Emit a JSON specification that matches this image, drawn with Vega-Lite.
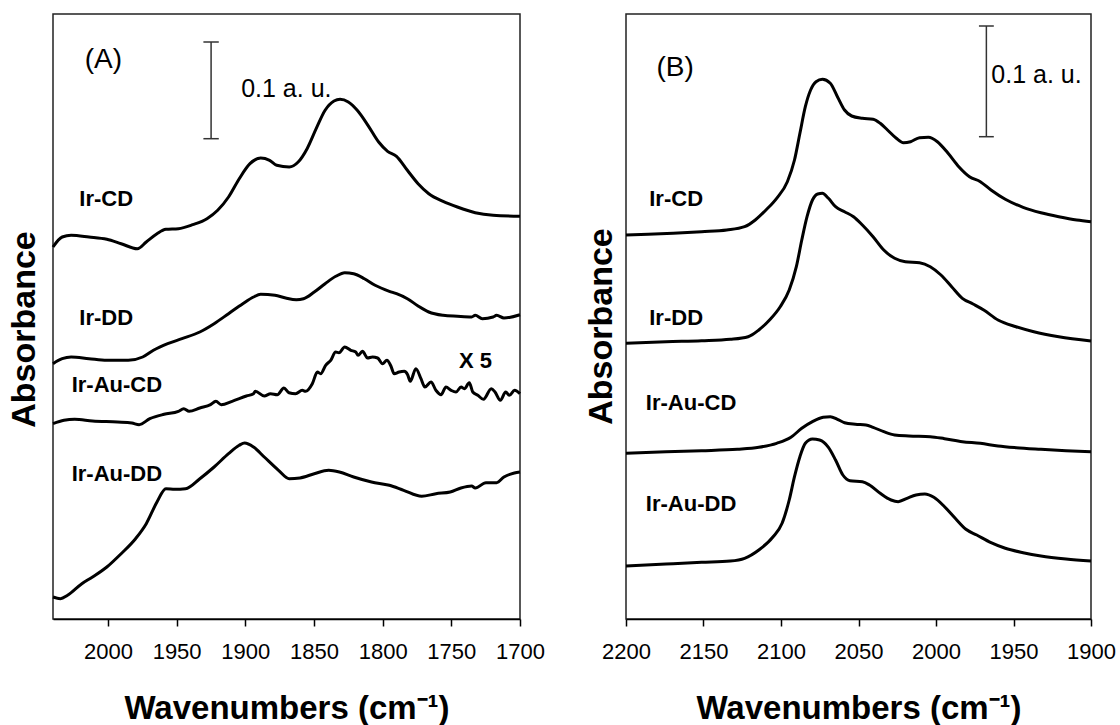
{
  "$schema": "https://vega.github.io/schema/vega-lite/v6.json",
  "background": "white",
  "padding": {"left": 6, "top": 13, "right": 0, "bottom": 0},
  "config": {
    "view": {"stroke": "#222", "strokeWidth": 1.5},
    "font": "Liberation Sans",
    "text": {"font": "Liberation Sans", "color": "black"}
  },
  "spacing": 106,
  "bounds": "flush",
  "datasets": {
    "specA": [
      {"s":"Ir-CD","wn":2040,"h":372},{"s":"Ir-CD","wn":2033.3,"h":382},{"s":"Ir-CD","wn":2026.8,"h":383.7},{"s":"Ir-CD","wn":2013.8,"h":382},{"s":"Ir-CD","wn":2000.8,"h":379.7},{"s":"Ir-CD","wn":1990.4,"h":375.3},{"s":"Ir-CD","wn":1978.6,"h":370.3},{"s":"Ir-CD","wn":1972.1,"h":377},{"s":"Ir-CD","wn":1964.3,"h":385.3},{"s":"Ir-CD","wn":1957.8,"h":389.7},{"s":"Ir-CD","wn":1948.7,"h":390.3},{"s":"Ir-CD","wn":1938.3,"h":394.3},{"s":"Ir-CD","wn":1927.9,"h":400.3},{"s":"Ir-CD","wn":1920.1,"h":408.7},{"s":"Ir-CD","wn":1912.2,"h":422},{"s":"Ir-CD","wn":1904.4,"h":440.3},{"s":"Ir-CD","wn":1896.6,"h":455.3},{"s":"Ir-CD","wn":1888.8,"h":461},{"s":"Ir-CD","wn":1882.3,"h":458.7},{"s":"Ir-CD","wn":1877.1,"h":453.7},{"s":"Ir-CD","wn":1868,"h":452},{"s":"Ir-CD","wn":1861.5,"h":457},{"s":"Ir-CD","wn":1855,"h":470.3},{"s":"Ir-CD","wn":1848.4,"h":490.3},{"s":"Ir-CD","wn":1841.9,"h":508.7},{"s":"Ir-CD","wn":1835.4,"h":518},{"s":"Ir-CD","wn":1831,"h":519.7},{"s":"Ir-CD","wn":1825,"h":517},{"s":"Ir-CD","wn":1818.5,"h":508.7},{"s":"Ir-CD","wn":1810.7,"h":493.7},{"s":"Ir-CD","wn":1802.9,"h":477},{"s":"Ir-CD","wn":1796.4,"h":467.7},{"s":"Ir-CD","wn":1789.9,"h":462.7},{"s":"Ir-CD","wn":1782,"h":448.7},{"s":"Ir-CD","wn":1774.2,"h":435.3},{"s":"Ir-CD","wn":1766.4,"h":425.3},{"s":"Ir-CD","wn":1756,"h":417.7},{"s":"Ir-CD","wn":1745.6,"h":412},{"s":"Ir-CD","wn":1732.6,"h":406.3},{"s":"Ir-CD","wn":1719.6,"h":403.7},{"s":"Ir-CD","wn":1700,"h":402.7},
      {"s":"Ir-DD","wn":2040,"h":255.3},{"s":"Ir-DD","wn":2033.3,"h":260.3},{"s":"Ir-DD","wn":2026.8,"h":262},{"s":"Ir-DD","wn":2013.8,"h":260.3},{"s":"Ir-DD","wn":2000.8,"h":258.7},{"s":"Ir-DD","wn":1985.2,"h":258.7},{"s":"Ir-DD","wn":1974.7,"h":262},{"s":"Ir-DD","wn":1966.9,"h":268.7},{"s":"Ir-DD","wn":1956.5,"h":275.3},{"s":"Ir-DD","wn":1946.1,"h":280.3},{"s":"Ir-DD","wn":1933.1,"h":287},{"s":"Ir-DD","wn":1922.7,"h":295.3},{"s":"Ir-DD","wn":1912.2,"h":305.3},{"s":"Ir-DD","wn":1901.8,"h":315.3},{"s":"Ir-DD","wn":1894,"h":322},{"s":"Ir-DD","wn":1888.8,"h":324.7},{"s":"Ir-DD","wn":1878.4,"h":323.7},{"s":"Ir-DD","wn":1870.6,"h":321},{"s":"Ir-DD","wn":1862.8,"h":319.3},{"s":"Ir-DD","wn":1857.6,"h":320.3},{"s":"Ir-DD","wn":1849.8,"h":327},{"s":"Ir-DD","wn":1841.9,"h":335.3},{"s":"Ir-DD","wn":1834.1,"h":342.7},{"s":"Ir-DD","wn":1827.6,"h":346.3},{"s":"Ir-DD","wn":1821.1,"h":345.3},{"s":"Ir-DD","wn":1813.3,"h":340.3},{"s":"Ir-DD","wn":1805.5,"h":333.7},{"s":"Ir-DD","wn":1795.1,"h":327.7},{"s":"Ir-DD","wn":1789.9,"h":325.3},{"s":"Ir-DD","wn":1782,"h":320.3},{"s":"Ir-DD","wn":1774.2,"h":313},{"s":"Ir-DD","wn":1766.4,"h":307},{"s":"Ir-DD","wn":1756,"h":303.7},{"s":"Ir-DD","wn":1745.6,"h":302.7},{"s":"Ir-DD","wn":1735.2,"h":302},{"s":"Ir-DD","wn":1732.6,"h":303.7},{"s":"Ir-DD","wn":1727.4,"h":300.3},{"s":"Ir-DD","wn":1719.6,"h":302},{"s":"Ir-DD","wn":1717,"h":303.7},{"s":"Ir-DD","wn":1711.7,"h":301},{"s":"Ir-DD","wn":1700,"h":304.3},
      {"s":"Ir-Au-CD","wn":2040,"h":195.3},{"s":"Ir-Au-CD","wn":2032,"h":198.7},{"s":"Ir-Au-CD","wn":2024.2,"h":199.7},{"s":"Ir-Au-CD","wn":2011.2,"h":198},{"s":"Ir-Au-CD","wn":1993,"h":197},{"s":"Ir-Au-CD","wn":1982.6,"h":196},{"s":"Ir-Au-CD","wn":1977.3,"h":194.3},{"s":"Ir-Au-CD","wn":1969.5,"h":200.3},{"s":"Ir-Au-CD","wn":1959.1,"h":204.7},{"s":"Ir-Au-CD","wn":1948.7,"h":207.7},{"s":"Ir-Au-CD","wn":1944.8,"h":210.3},{"s":"Ir-Au-CD","wn":1940.9,"h":207.7},{"s":"Ir-Au-CD","wn":1933.1,"h":211},{"s":"Ir-Au-CD","wn":1925.3,"h":214.3},{"s":"Ir-Au-CD","wn":1921.4,"h":217.7},{"s":"Ir-Au-CD","wn":1917.5,"h":214.3},{"s":"Ir-Au-CD","wn":1909.6,"h":217.7},{"s":"Ir-Au-CD","wn":1899.2,"h":223},{"s":"Ir-Au-CD","wn":1894,"h":225.3},{"s":"Ir-Au-CD","wn":1892.7,"h":227.7},{"s":"Ir-Au-CD","wn":1886.2,"h":223},{"s":"Ir-Au-CD","wn":1881.6,"h":225.3},{"s":"Ir-Au-CD","wn":1876.7,"h":224.3},{"s":"Ir-Au-CD","wn":1871.9,"h":231},{"s":"Ir-Au-CD","wn":1868.2,"h":226.3},{"s":"Ir-Au-CD","wn":1863.4,"h":225.3},{"s":"Ir-Au-CD","wn":1858.5,"h":228.7},{"s":"Ir-Au-CD","wn":1856.1,"h":227.7},{"s":"Ir-Au-CD","wn":1851.2,"h":235.3},{"s":"Ir-Au-CD","wn":1847.5,"h":247},{"s":"Ir-Au-CD","wn":1845.1,"h":245.3},{"s":"Ir-Au-CD","wn":1841.5,"h":253.7},{"s":"Ir-Au-CD","wn":1837.8,"h":258.7},{"s":"Ir-Au-CD","wn":1834.2,"h":267},{"s":"Ir-Au-CD","wn":1831.8,"h":266.3},{"s":"Ir-Au-CD","wn":1827.6,"h":272},{"s":"Ir-Au-CD","wn":1823.2,"h":268.7},{"s":"Ir-Au-CD","wn":1819.6,"h":267},{"s":"Ir-Au-CD","wn":1817.9,"h":263.7},{"s":"Ir-Au-CD","wn":1814.7,"h":267.7},{"s":"Ir-Au-CD","wn":1811,"h":261},{"s":"Ir-Au-CD","wn":1807.4,"h":262},{"s":"Ir-Au-CD","wn":1803.7,"h":261},{"s":"Ir-Au-CD","wn":1800.1,"h":255.3},{"s":"Ir-Au-CD","wn":1796.9,"h":258.7},{"s":"Ir-Au-CD","wn":1794,"h":253},{"s":"Ir-Au-CD","wn":1791.6,"h":245.3},{"s":"Ir-Au-CD","wn":1788,"h":247},{"s":"Ir-Au-CD","wn":1784.3,"h":247.7},{"s":"Ir-Au-CD","wn":1781.8,"h":244.3},{"s":"Ir-Au-CD","wn":1779.9,"h":237.7},{"s":"Ir-Au-CD","wn":1775.8,"h":250.3},{"s":"Ir-Au-CD","wn":1772.1,"h":240.3},{"s":"Ir-Au-CD","wn":1769.2,"h":232},{"s":"Ir-Au-CD","wn":1764.8,"h":237},{"s":"Ir-Au-CD","wn":1761.2,"h":228.7},{"s":"Ir-Au-CD","wn":1757.5,"h":224.3},{"s":"Ir-Au-CD","wn":1753.9,"h":232},{"s":"Ir-Au-CD","wn":1750.2,"h":228.7},{"s":"Ir-Au-CD","wn":1746.6,"h":227},{"s":"Ir-Au-CD","wn":1742.9,"h":232},{"s":"Ir-Au-CD","wn":1740.5,"h":230.3},{"s":"Ir-Au-CD","wn":1736.9,"h":236.3},{"s":"Ir-Au-CD","wn":1734.4,"h":227},{"s":"Ir-Au-CD","wn":1730.7,"h":223.7},{"s":"Ir-Au-CD","wn":1726.6,"h":219.7},{"s":"Ir-Au-CD","wn":1720.9,"h":230.3},{"s":"Ir-Au-CD","wn":1718.2,"h":227},{"s":"Ir-Au-CD","wn":1714.3,"h":218.7},{"s":"Ir-Au-CD","wn":1710.4,"h":227},{"s":"Ir-Au-CD","wn":1707.8,"h":223.7},{"s":"Ir-Au-CD","wn":1703.9,"h":228.7},{"s":"Ir-Au-CD","wn":1700,"h":225.3},
      {"s":"Ir-Au-DD","wn":2040,"h":22},{"s":"Ir-Au-DD","wn":2034.6,"h":20.3},{"s":"Ir-Au-DD","wn":2029.4,"h":23.7},{"s":"Ir-Au-DD","wn":2019,"h":35.3},{"s":"Ir-Au-DD","wn":2011.2,"h":42},{"s":"Ir-Au-DD","wn":2000.8,"h":52},{"s":"Ir-Au-DD","wn":1990.4,"h":65.3},{"s":"Ir-Au-DD","wn":1979.9,"h":80.3},{"s":"Ir-Au-DD","wn":1972.1,"h":95.3},{"s":"Ir-Au-DD","wn":1964.3,"h":117},{"s":"Ir-Au-DD","wn":1957.8,"h":130.3},{"s":"Ir-Au-DD","wn":1951.3,"h":129.7},{"s":"Ir-Au-DD","wn":1943.5,"h":130.3},{"s":"Ir-Au-DD","wn":1933.1,"h":140.3},{"s":"Ir-Au-DD","wn":1922.7,"h":152},{"s":"Ir-Au-DD","wn":1912.2,"h":165.3},{"s":"Ir-Au-DD","wn":1904.4,"h":173.7},{"s":"Ir-Au-DD","wn":1900.5,"h":176},{"s":"Ir-Au-DD","wn":1894,"h":172},{"s":"Ir-Au-DD","wn":1886.2,"h":162},{"s":"Ir-Au-DD","wn":1875.8,"h":148.7},{"s":"Ir-Au-DD","wn":1868,"h":140.3},{"s":"Ir-Au-DD","wn":1860.2,"h":141},{"s":"Ir-Au-DD","wn":1849.8,"h":145.3},{"s":"Ir-Au-DD","wn":1839.3,"h":148.7},{"s":"Ir-Au-DD","wn":1831.5,"h":147},{"s":"Ir-Au-DD","wn":1821.1,"h":142},{"s":"Ir-Au-DD","wn":1808.1,"h":137},{"s":"Ir-Au-DD","wn":1795.1,"h":133.7},{"s":"Ir-Au-DD","wn":1784.7,"h":128.7},{"s":"Ir-Au-DD","wn":1771.6,"h":122.7},{"s":"Ir-Au-DD","wn":1761.2,"h":125.3},{"s":"Ir-Au-DD","wn":1750.8,"h":127},{"s":"Ir-Au-DD","wn":1743,"h":131},{"s":"Ir-Au-DD","wn":1735.2,"h":133},{"s":"Ir-Au-DD","wn":1732.6,"h":131},{"s":"Ir-Au-DD","wn":1724.8,"h":136.3},{"s":"Ir-Au-DD","wn":1717,"h":136.3},{"s":"Ir-Au-DD","wn":1711.7,"h":142},{"s":"Ir-Au-DD","wn":1704.1,"h":146},{"s":"Ir-Au-DD","wn":1700,"h":147}
    ],
    "specB": [
      {"s":"Ir-CD","wn":2200,"h":384},{"s":"Ir-CD","wn":2185.7,"h":384.7},{"s":"Ir-CD","wn":2169.6,"h":385.7},{"s":"Ir-CD","wn":2151.2,"h":387.3},{"s":"Ir-CD","wn":2135,"h":389},{"s":"Ir-CD","wn":2123.5,"h":392.3},{"s":"Ir-CD","wn":2116.6,"h":399},{"s":"Ir-CD","wn":2109.7,"h":409},{"s":"Ir-CD","wn":2102.8,"h":420.7},{"s":"Ir-CD","wn":2095.9,"h":437.3},{"s":"Ir-CD","wn":2091.3,"h":459},{"s":"Ir-CD","wn":2087.8,"h":485.7},{"s":"Ir-CD","wn":2084.3,"h":512.3},{"s":"Ir-CD","wn":2080.9,"h":529},{"s":"Ir-CD","wn":2077.4,"h":537.3},{"s":"Ir-CD","wn":2073.3,"h":539.7},{"s":"Ir-CD","wn":2068.2,"h":535.7},{"s":"Ir-CD","wn":2063.6,"h":522.3},{"s":"Ir-CD","wn":2059,"h":509},{"s":"Ir-CD","wn":2054.4,"h":503},{"s":"Ir-CD","wn":2047.5,"h":500.7},{"s":"Ir-CD","wn":2040.6,"h":499.7},{"s":"Ir-CD","wn":2036,"h":495.7},{"s":"Ir-CD","wn":2031.3,"h":489},{"s":"Ir-CD","wn":2025.6,"h":480.7},{"s":"Ir-CD","wn":2021,"h":476.3},{"s":"Ir-CD","wn":2016.4,"h":477.3},{"s":"Ir-CD","wn":2010.6,"h":481.3},{"s":"Ir-CD","wn":2004.9,"h":481.7},{"s":"Ir-CD","wn":1999.1,"h":477.3},{"s":"Ir-CD","wn":1992.2,"h":465.7},{"s":"Ir-CD","wn":1985.3,"h":452.3},{"s":"Ir-CD","wn":1978.4,"h":442.3},{"s":"Ir-CD","wn":1971.4,"h":437.3},{"s":"Ir-CD","wn":1964.5,"h":429},{"s":"Ir-CD","wn":1955.3,"h":419.7},{"s":"Ir-CD","wn":1943.8,"h":411.7},{"s":"Ir-CD","wn":1932.3,"h":406.3},{"s":"Ir-CD","wn":1920.8,"h":402.3},{"s":"Ir-CD","wn":1909.2,"h":399},{"s":"Ir-CD","wn":1900,"h":397.3},
      {"s":"Ir-DD","wn":2200,"h":275.7},{"s":"Ir-DD","wn":2174.2,"h":277.3},{"s":"Ir-DD","wn":2151.2,"h":278.3},{"s":"Ir-DD","wn":2132.7,"h":279.7},{"s":"Ir-DD","wn":2121.2,"h":282.3},{"s":"Ir-DD","wn":2114.3,"h":289},{"s":"Ir-DD","wn":2107.4,"h":299},{"s":"Ir-DD","wn":2100.5,"h":312.3},{"s":"Ir-DD","wn":2094.7,"h":329},{"s":"Ir-DD","wn":2090.1,"h":352.3},{"s":"Ir-DD","wn":2086.6,"h":379},{"s":"Ir-DD","wn":2083.2,"h":402.3},{"s":"Ir-DD","wn":2079.7,"h":419},{"s":"Ir-DD","wn":2076.3,"h":425},{"s":"Ir-DD","wn":2073.3,"h":425.7},{"s":"Ir-DD","wn":2069.4,"h":420.7},{"s":"Ir-DD","wn":2064.8,"h":412.3},{"s":"Ir-DD","wn":2059,"h":407.3},{"s":"Ir-DD","wn":2053.2,"h":402.3},{"s":"Ir-DD","wn":2047.5,"h":394},{"s":"Ir-DD","wn":2040.6,"h":382.3},{"s":"Ir-DD","wn":2033.7,"h":369},{"s":"Ir-DD","wn":2026.7,"h":360.7},{"s":"Ir-DD","wn":2019.8,"h":357.3},{"s":"Ir-DD","wn":2010.6,"h":356.3},{"s":"Ir-DD","wn":2003.7,"h":352.3},{"s":"Ir-DD","wn":1996.8,"h":344},{"s":"Ir-DD","wn":1989.9,"h":332.3},{"s":"Ir-DD","wn":1983,"h":320.7},{"s":"Ir-DD","wn":1976.1,"h":315},{"s":"Ir-DD","wn":1969.2,"h":309},{"s":"Ir-DD","wn":1960,"h":299},{"s":"Ir-DD","wn":1948.4,"h":292.3},{"s":"Ir-DD","wn":1936.9,"h":287.3},{"s":"Ir-DD","wn":1920.8,"h":282.3},{"s":"Ir-DD","wn":1900,"h":278},
      {"s":"Ir-Au-CD","wn":2200,"h":165.7},{"s":"Ir-Au-CD","wn":2174.2,"h":167.3},{"s":"Ir-Au-CD","wn":2151.2,"h":168.3},{"s":"Ir-Au-CD","wn":2128.1,"h":169.7},{"s":"Ir-Au-CD","wn":2114.3,"h":171.7},{"s":"Ir-Au-CD","wn":2102.8,"h":175.7},{"s":"Ir-Au-CD","wn":2093.6,"h":181.7},{"s":"Ir-Au-CD","wn":2086.6,"h":190.7},{"s":"Ir-Au-CD","wn":2079.7,"h":197.3},{"s":"Ir-Au-CD","wn":2072.8,"h":201.7},{"s":"Ir-Au-CD","wn":2068.2,"h":202.3},{"s":"Ir-Au-CD","wn":2063.6,"h":199.7},{"s":"Ir-Au-CD","wn":2059,"h":196.3},{"s":"Ir-Au-CD","wn":2052.1,"h":194.7},{"s":"Ir-Au-CD","wn":2045.2,"h":194},{"s":"Ir-Au-CD","wn":2040.6,"h":191.7},{"s":"Ir-Au-CD","wn":2033.7,"h":187.3},{"s":"Ir-Au-CD","wn":2026.7,"h":184},{"s":"Ir-Au-CD","wn":2017.5,"h":183},{"s":"Ir-Au-CD","wn":2003.7,"h":182.3},{"s":"Ir-Au-CD","wn":1994.5,"h":180.3},{"s":"Ir-Au-CD","wn":1983,"h":177.3},{"s":"Ir-Au-CD","wn":1971.4,"h":175.7},{"s":"Ir-Au-CD","wn":1960,"h":173},{"s":"Ir-Au-CD","wn":1948.4,"h":171.3},{"s":"Ir-Au-CD","wn":1932.3,"h":169.7},{"s":"Ir-Au-CD","wn":1916.1,"h":168.3},{"s":"Ir-Au-CD","wn":1900,"h":167.3},
      {"s":"Ir-Au-DD","wn":2200,"h":53},{"s":"Ir-Au-DD","wn":2174.2,"h":55},{"s":"Ir-Au-DD","wn":2151.2,"h":56.7},{"s":"Ir-Au-DD","wn":2132.7,"h":58},{"s":"Ir-Au-DD","wn":2123.5,"h":60.7},{"s":"Ir-Au-DD","wn":2114.3,"h":69},{"s":"Ir-Au-DD","wn":2105.1,"h":82.3},{"s":"Ir-Au-DD","wn":2099.3,"h":95.7},{"s":"Ir-Au-DD","wn":2094.7,"h":119},{"s":"Ir-Au-DD","wn":2091.3,"h":142.3},{"s":"Ir-Au-DD","wn":2087.8,"h":162.3},{"s":"Ir-Au-DD","wn":2084.3,"h":175.7},{"s":"Ir-Au-DD","wn":2079.7,"h":180},{"s":"Ir-Au-DD","wn":2075.1,"h":179},{"s":"Ir-Au-DD","wn":2069.4,"h":171.7},{"s":"Ir-Au-DD","wn":2064.8,"h":159},{"s":"Ir-Au-DD","wn":2060.1,"h":144},{"s":"Ir-Au-DD","wn":2055.5,"h":138.3},{"s":"Ir-Au-DD","wn":2047.5,"h":137.3},{"s":"Ir-Au-DD","wn":2042.9,"h":134},{"s":"Ir-Au-DD","wn":2036,"h":125.7},{"s":"Ir-Au-DD","wn":2029,"h":119},{"s":"Ir-Au-DD","wn":2024.4,"h":117.3},{"s":"Ir-Au-DD","wn":2018.7,"h":120.7},{"s":"Ir-Au-DD","wn":2012.9,"h":124},{"s":"Ir-Au-DD","wn":2007.2,"h":125},{"s":"Ir-Au-DD","wn":2001.4,"h":121.7},{"s":"Ir-Au-DD","wn":1994.5,"h":112.3},{"s":"Ir-Au-DD","wn":1987.6,"h":100.7},{"s":"Ir-Au-DD","wn":1980.7,"h":89.7},{"s":"Ir-Au-DD","wn":1973.7,"h":84},{"s":"Ir-Au-DD","wn":1964.5,"h":76.3},{"s":"Ir-Au-DD","wn":1955.3,"h":70.7},{"s":"Ir-Au-DD","wn":1943.8,"h":66.3},{"s":"Ir-Au-DD","wn":1932.3,"h":63},{"s":"Ir-Au-DD","wn":1916.1,"h":60},{"s":"Ir-Au-DD","wn":1900,"h":58}
    ],
    "labelsA": [
      {"label":"Ir-CD","kind":"curve","wn":2020.8,"h":420},
      {"label":"Ir-DD","kind":"curve","wn":2020.8,"h":301},
      {"label":"Ir-Au-CD","kind":"curve","wn":2026.4,"h":234},
      {"label":"Ir-Au-DD","kind":"curve","wn":2026.4,"h":145},
      {"label":"X 5","kind":"curve","wn":1744.4,"h":258},
      {"label":"(A)","kind":"panel","wn":2016.9,"h":559},
      {"label":"0.1 a. u.","kind":"scale","wn":1903,"h":530}
    ],
    "labelsB": [
      {"label":"Ir-CD","kind":"curve","wn":2185,"h":420},
      {"label":"Ir-DD","kind":"curve","wn":2185,"h":301},
      {"label":"Ir-Au-CD","kind":"curve","wn":2187.2,"h":216},
      {"label":"Ir-Au-DD","kind":"curve","wn":2187.2,"h":115},
      {"label":"(B)","kind":"panel","wn":2180.3,"h":551},
      {"label":"0.1 a. u.","kind":"scale","wn":1964.3,"h":544}
    ],
    "barA": [{"wn":1924.9,"h1":480.3,"h2":577,"c1":1930.5,"c2":1919.3}],
    "barB": [{"wn":1967.5,"h1":482.3,"h2":593,"c1":1972.3,"c2":1962.7}]
  },
  "hconcat": [
    {
      "width": 467,
      "height": 605,
      "layer": [
        {
          "data": {"name": "specA"},
          "mark": {"type": "line", "color": "black", "strokeWidth": 3, "interpolate": "monotone"},
          "encoding": {
            "x": {"field": "wn", "type": "quantitative", "title": "Wavenumbers (cm⁻¹)",
              "scale": {"domain": [1700, 2040], "reverse": true, "nice": false, "zero": false},
              "axis": {"values": [2000, 1950, 1900, 1850, 1800, 1750, 1700], "format": "d", "grid": false, "labelFlush": false, "labelOverlap": false, "labelBound": false,
                "labelFontSize": 22, "labelColor": "black", "labelFont": "Liberation Sans", "labelPadding": 15,
                "tickSize": 7, "tickColor": "black", "tickWidth": 1.5, "domainColor": "black", "domainWidth": 1.5,
                "titleFontSize": 33, "titleFont": "Liberation Sans", "titleFontWeight": "bold", "titleColor": "black", "titlePadding": 30}},
            "y": {"field": "h", "type": "quantitative", "title": "Absorbance",
              "scale": {"domain": [0, 605], "nice": false, "zero": false},
              "axis": {"labels": false, "ticks": false, "domain": false, "grid": false, "titleY": 315,
                "titleFontSize": 34, "titleFont": "Liberation Sans", "titleFontWeight": "bold", "titleColor": "black", "titlePadding": 12}},
            "detail": {"field": "s"}
          }
        },
        {
          "data": {"name": "barA"},
          "mark": {"type": "rule", "color": "#333", "strokeWidth": 1.5},
          "encoding": {
            "x": {"field": "wn", "type": "quantitative", "title": "Wavenumbers (cm⁻¹)"},
            "y": {"field": "h1", "type": "quantitative", "title": "Absorbance"},
            "y2": {"field": "h2"}
          }
        },
        {
          "data": {"name": "barA"},
          "mark": {"type": "rule", "color": "#333", "strokeWidth": 1.5},
          "encoding": {
            "x": {"field": "c1", "type": "quantitative", "title": "Wavenumbers (cm⁻¹)"},
            "x2": {"field": "c2"},
            "y": {"field": "h1", "type": "quantitative", "title": "Absorbance"}
          }
        },
        {
          "data": {"name": "barA"},
          "mark": {"type": "rule", "color": "#333", "strokeWidth": 1.5},
          "encoding": {
            "x": {"field": "c1", "type": "quantitative", "title": "Wavenumbers (cm⁻¹)"},
            "x2": {"field": "c2"},
            "y": {"field": "h2", "type": "quantitative", "title": "Absorbance"}
          }
        },
        {
          "data": {"name": "labelsA"},
          "transform": [{"filter": "datum.kind === 'curve'"}],
          "mark": {"type": "text", "align": "left", "baseline": "middle", "fontSize": 22, "fontWeight": "bold", "font": "Liberation Sans", "color": "black"},
          "encoding": {
            "x": {"field": "wn", "type": "quantitative", "title": "Wavenumbers (cm⁻¹)"},
            "y": {"field": "h", "type": "quantitative", "title": "Absorbance"},
            "text": {"field": "label"}
          }
        },
        {
          "data": {"name": "labelsA"},
          "transform": [{"filter": "datum.kind === 'panel'"}],
          "mark": {"type": "text", "align": "left", "baseline": "middle", "fontSize": 28, "font": "Liberation Sans", "color": "black"},
          "encoding": {
            "x": {"field": "wn", "type": "quantitative", "title": "Wavenumbers (cm⁻¹)"},
            "y": {"field": "h", "type": "quantitative", "title": "Absorbance"},
            "text": {"field": "label"}
          }
        },
        {
          "data": {"name": "labelsA"},
          "transform": [{"filter": "datum.kind === 'scale'"}],
          "mark": {"type": "text", "align": "left", "baseline": "middle", "fontSize": 25, "font": "Liberation Sans", "color": "black"},
          "encoding": {
            "x": {"field": "wn", "type": "quantitative", "title": "Wavenumbers (cm⁻¹)"},
            "y": {"field": "h", "type": "quantitative", "title": "Absorbance"},
            "text": {"field": "label"}
          }
        }
      ]
    },
    {
      "width": 465,
      "height": 605,
      "layer": [
        {
          "data": {"name": "specB"},
          "mark": {"type": "line", "color": "black", "strokeWidth": 3, "interpolate": "monotone"},
          "encoding": {
            "x": {"field": "wn", "type": "quantitative", "title": "Wavenumbers (cm⁻¹)",
              "scale": {"domain": [1900, 2200], "reverse": true, "nice": false, "zero": false},
              "axis": {"values": [2200, 2150, 2100, 2050, 2000, 1950, 1900], "format": "d", "grid": false, "labelFlush": false, "labelOverlap": false, "labelBound": false,
                "labelFontSize": 22, "labelColor": "black", "labelFont": "Liberation Sans", "labelPadding": 15,
                "tickSize": 7, "tickColor": "black", "tickWidth": 1.5, "domainColor": "black", "domainWidth": 1.5,
                "titleFontSize": 33, "titleFont": "Liberation Sans", "titleFontWeight": "bold", "titleColor": "black", "titlePadding": 30}},
            "y": {"field": "h", "type": "quantitative", "title": "Absorbance",
              "scale": {"domain": [0, 605], "nice": false, "zero": false},
              "axis": {"labels": false, "ticks": false, "domain": false, "grid": false, "titleY": 312,
                "titleFontSize": 34, "titleFont": "Liberation Sans", "titleFontWeight": "bold", "titleColor": "black", "titlePadding": 8}},
            "detail": {"field": "s"}
          }
        },
        {
          "data": {"name": "barB"},
          "mark": {"type": "rule", "color": "#333", "strokeWidth": 1.5},
          "encoding": {
            "x": {"field": "wn", "type": "quantitative", "title": "Wavenumbers (cm⁻¹)"},
            "y": {"field": "h1", "type": "quantitative", "title": "Absorbance"},
            "y2": {"field": "h2"}
          }
        },
        {
          "data": {"name": "barB"},
          "mark": {"type": "rule", "color": "#333", "strokeWidth": 1.5},
          "encoding": {
            "x": {"field": "c1", "type": "quantitative", "title": "Wavenumbers (cm⁻¹)"},
            "x2": {"field": "c2"},
            "y": {"field": "h1", "type": "quantitative", "title": "Absorbance"}
          }
        },
        {
          "data": {"name": "barB"},
          "mark": {"type": "rule", "color": "#333", "strokeWidth": 1.5},
          "encoding": {
            "x": {"field": "c1", "type": "quantitative", "title": "Wavenumbers (cm⁻¹)"},
            "x2": {"field": "c2"},
            "y": {"field": "h2", "type": "quantitative", "title": "Absorbance"}
          }
        },
        {
          "data": {"name": "labelsB"},
          "transform": [{"filter": "datum.kind === 'curve'"}],
          "mark": {"type": "text", "align": "left", "baseline": "middle", "fontSize": 22, "fontWeight": "bold", "font": "Liberation Sans", "color": "black"},
          "encoding": {
            "x": {"field": "wn", "type": "quantitative", "title": "Wavenumbers (cm⁻¹)"},
            "y": {"field": "h", "type": "quantitative", "title": "Absorbance"},
            "text": {"field": "label"}
          }
        },
        {
          "data": {"name": "labelsB"},
          "transform": [{"filter": "datum.kind === 'panel'"}],
          "mark": {"type": "text", "align": "left", "baseline": "middle", "fontSize": 28, "font": "Liberation Sans", "color": "black"},
          "encoding": {
            "x": {"field": "wn", "type": "quantitative", "title": "Wavenumbers (cm⁻¹)"},
            "y": {"field": "h", "type": "quantitative", "title": "Absorbance"},
            "text": {"field": "label"}
          }
        },
        {
          "data": {"name": "labelsB"},
          "transform": [{"filter": "datum.kind === 'scale'"}],
          "mark": {"type": "text", "align": "left", "baseline": "middle", "fontSize": 25, "font": "Liberation Sans", "color": "black"},
          "encoding": {
            "x": {"field": "wn", "type": "quantitative", "title": "Wavenumbers (cm⁻¹)"},
            "y": {"field": "h", "type": "quantitative", "title": "Absorbance"},
            "text": {"field": "label"}
          }
        }
      ]
    }
  ]
}
